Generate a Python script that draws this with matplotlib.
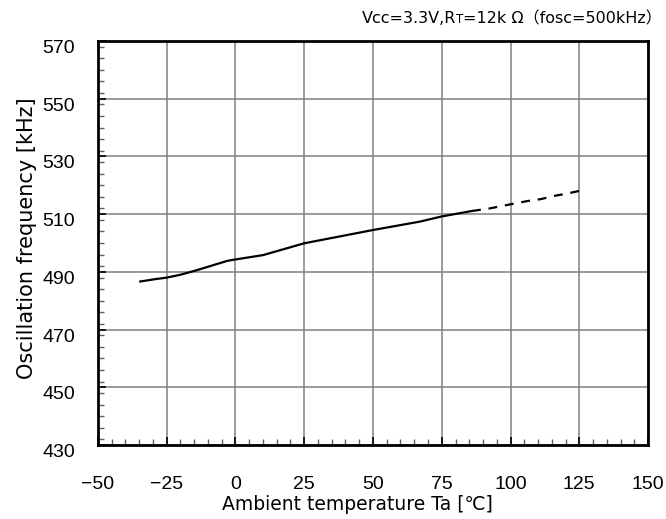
import matplotlib
matplotlib.use("Agg")
import matplotlib.pyplot as plt
import matplotlib.transforms as mtransforms
from matplotlib.ticker import MultipleLocator
from matplotlib.offsetbox import TextArea, HPacker, AnchoredOffsetbox

plt.rcParams['font.family'] = ['DejaVu Sans', 'Noto Sans CJK JP']

# data
temp_solid = [-35, -31, -29, -25, -20, -14, -3, 0, 10, 25, 50, 67, 75, 86]
freq_solid = [486.6, 487.2, 487.5, 488.0, 489.0, 490.6, 493.8, 494.3, 495.8, 499.9, 504.5, 507.4, 509.2, 511.1]
temp_dash = [86, 92, 101.6, 106.5, 111, 115.8, 120.4, 125.3]
freq_dash = [511.1, 511.9, 513.7, 514.6, 515.2, 516.3, 517.1, 518.1]
x_ticks = [-50, -25, 0, 25, 50, 75, 100, 125, 150]
x_labels = ['\u221250', '\u221225', '0', '25', '50', '75', '100', '125', '150']
y_ticks = [430, 450, 470, 490, 510, 530, 550, 570]

fig = plt.figure(figsize=(6.66, 5.19), dpi=100)
ax = fig.add_axes([0.1471, 0.1426, 0.973 - 0.1471, 0.921 - 0.1426])

ax.plot(temp_solid, freq_solid, color='black', lw=1.6, solid_capstyle='butt')
ax.plot(temp_dash, freq_dash, color='black', lw=1.6, linestyle=(0, (4, 3.5)))

ax.set_xlim(-50, 150)
ax.set_ylim(430, 570)
ax.set_xticks(x_ticks)
ax.set_yticks(y_ticks)
ax.xaxis.set_minor_locator(MultipleLocator(5))
ax.yaxis.set_minor_locator(MultipleLocator(4))
ax.set_xticklabels(x_labels, family=['Liberation Sans', 'DejaVu Sans'], fontsize=14)
ax.set_yticklabels([str(v) for v in y_ticks], family=['Liberation Sans', 'DejaVu Sans'], fontsize=14)

ax.grid(True, which='major', color='#808080', lw=1.1)
ax.set_axisbelow(True)
ax.tick_params(which='both', direction='in', top=False, right=False, colors='black')
ax.tick_params(which='major', length=6, width=1.2)
ax.tick_params(axis='x', which='major', pad=22)
ax.tick_params(axis='y', which='major', pad=16.5)
ax.tick_params(which='minor', length=4.5, width=1.0, color='#606060')
for s in ax.spines.values():
    s.set_linewidth(2)
    s.set_color('black')

# y tick labels sit slightly below their gridlines in the reference
off = mtransforms.ScaledTranslation(0, -5.5 / 100, fig.dpi_scale_trans)
for lab in ax.get_yticklabels():
    lab.set_transform(lab.get_transform() + off)

ax.set_xlabel('Ambient temperature Ta [\u2103]', fontsize=13.5)
ax.xaxis.set_label_coords((357 - 98) / 550, (445 - 495) / 404)
ax.set_ylabel('Oscillation frequency [kHz]', fontsize=15)
ax.yaxis.set_label_coords((37 - 98) / 550, (445 - 238) / 404)

ta1 = TextArea('Vcc=3.3V,R', textprops=dict(size=11.5))
ta2 = TextArea('T', textprops=dict(size=8.5))
ta3 = TextArea('=12k \u03a9\uff08fosc=500kHz\uff09', textprops=dict(size=11.5))
box = HPacker(children=[ta1, ta2, ta3], align='baseline', pad=0, sep=0)
anch = AnchoredOffsetbox(loc='upper right', child=box, pad=0, frameon=False,
                         bbox_to_anchor=(662 / 666, 1 - 11 / 519), bbox_transform=fig.transFigure, borderpad=0)
fig.add_artist(anch)

fig.savefig('out.png', dpi=100)
